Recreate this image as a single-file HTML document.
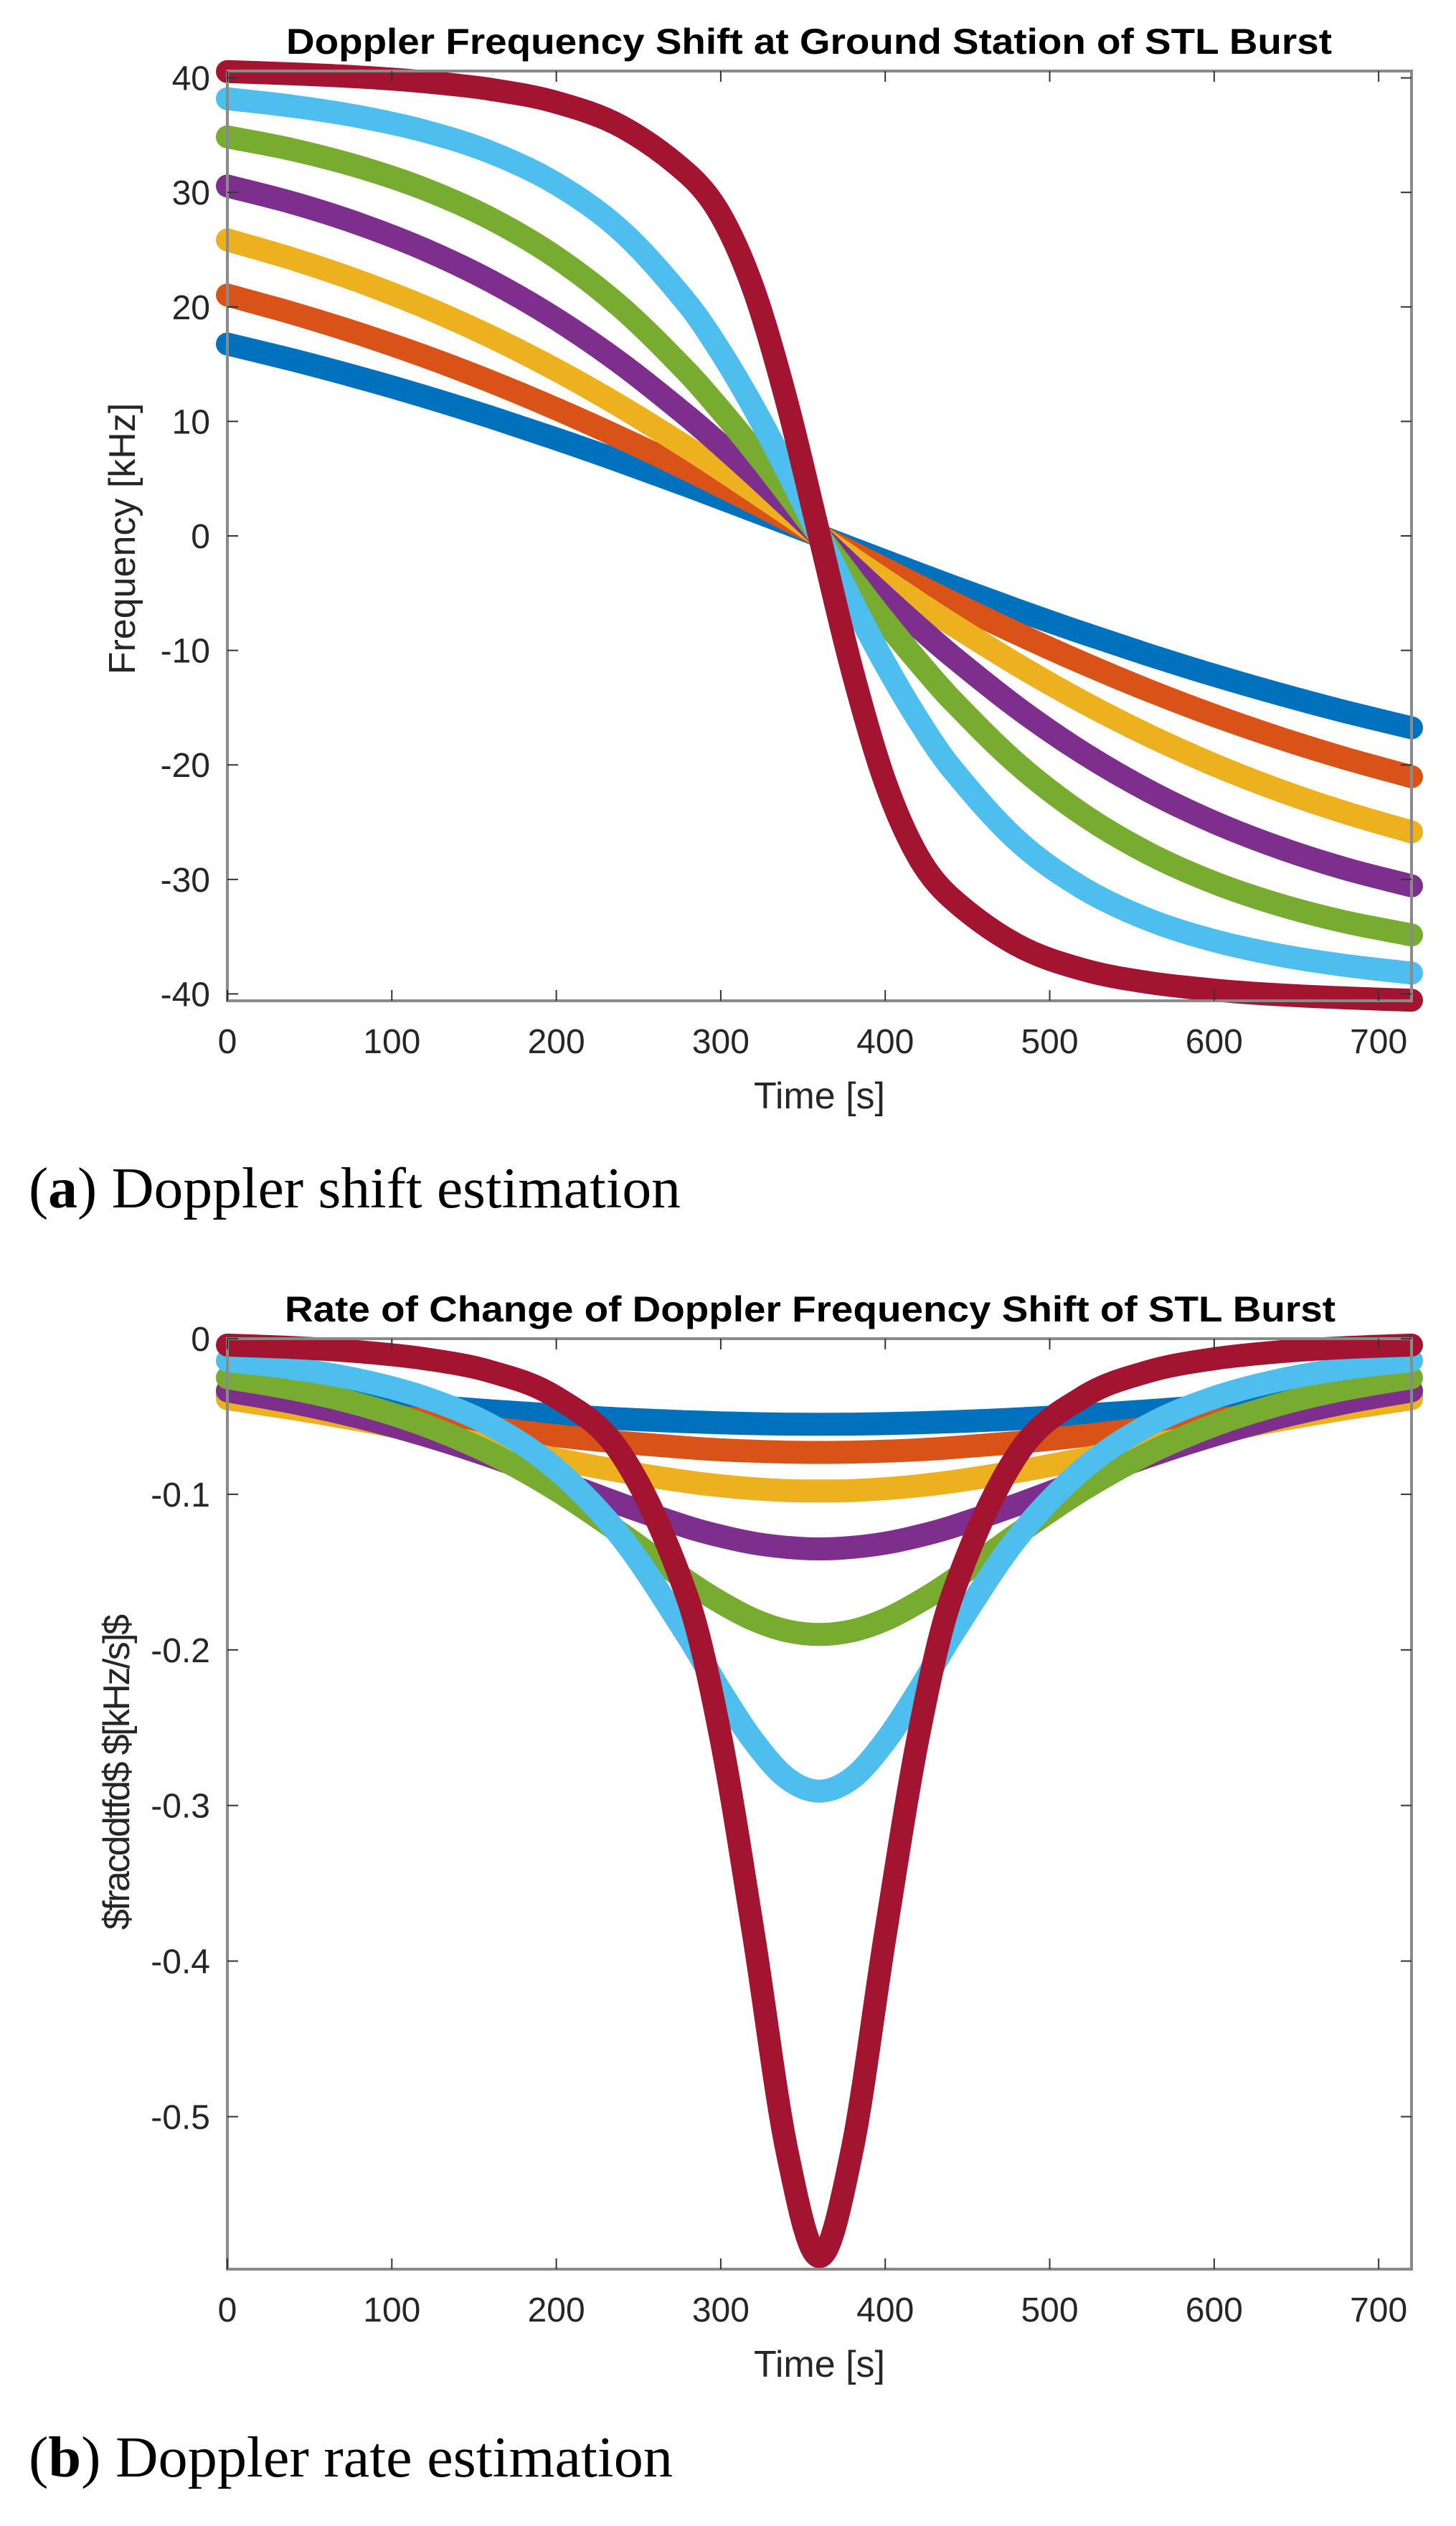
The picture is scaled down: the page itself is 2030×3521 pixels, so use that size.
<!DOCTYPE html>
<html><head><meta charset="utf-8"><style>
html,body{margin:0;padding:0;background:#fff;}
svg{display:block;}
text{font-family:"Liberation Sans",Arial,sans-serif;}
</style></head><body>
<svg id="fig" width="2030" height="3521" viewBox="0 0 2030 3521" xmlns="http://www.w3.org/2000/svg">
<rect x="0" y="0" width="2030" height="3521" fill="#fff"/>
<g id="chartA"></g>
<g id="chartB"></g>
<text x="40" y="1683" font-size="80" textLength="909" lengthAdjust="spacingAndGlyphs" style="font-family:'Liberation Serif',serif">(<tspan font-weight="bold">a</tspan>) Doppler shift estimation</text>
<text x="40" y="3452" font-size="80" textLength="898" lengthAdjust="spacingAndGlyphs" style="font-family:'Liberation Serif',serif">(<tspan font-weight="bold">b</tspan>) Doppler rate estimation</text>
</svg>
<script>
// ---- data ----
const times = [0,40,80,120,160,200,240,280,300,320,340,360,380,400,420,440,480,520,560,600,640,680,720];
const seriesNames = ['blue','orange','yellow','purple','green','cyan','red'];
const seriesColors = ['#0072BD','#D95319','#EDB120','#7E2F8E','#77AC30','#4DBEEE','#A2142F'];
const shiftBlue   = [16.76,15.36,13.83,12.17,10.38,8.47,6.46,4.36,3.28,2.19,1.10,0,-1.10,-2.19,-3.28,-4.36,-6.46,-8.47,-10.38,-12.17,-13.83,-15.36,-16.76];
const shiftOrange = [21.03,19.44,17.66,15.68,13.49,11.09,8.51,5.77,4.35,2.91,1.46,0,-1.46,-2.91,-4.35,-5.77,-8.51,-11.09,-13.49,-15.68,-17.66,-19.44,-21.03];
const shiftYellow = [25.85,24.18,22.24,19.99,17.41,14.49,11.23,7.67,5.81,3.90,1.96,0,-1.96,-3.90,-5.81,-7.67,-11.23,-14.49,-17.41,-19.99,-22.24,-24.18,-25.85];
const shiftPurple = [30.56,29.08,27.25,25.01,22.26,18.93,14.98,10.42,7.94,5.35,2.70,0,-2.70,-5.35,-7.94,-10.42,-14.98,-18.93,-22.26,-25.01,-27.25,-29.08,-30.56];
const shiftGreen  = [34.85,33.72,32.23,30.29,27.72,24.32,19.88,14.24,10.98,7.48,3.79,0,-3.79,-7.48,-10.98,-14.24,-19.88,-24.32,-27.72,-30.29,-32.23,-33.72,-34.85];
const shiftCyan   = [38.18,37.52,36.62,35.35,33.51,30.75,26.57,20.23,16.06,11.19,5.76,0,-5.76,-11.19,-16.06,-20.23,-26.57,-30.75,-33.51,-35.35,-36.62,-37.52,-38.18];
const shiftRed    = [40.55,40.35,40.08,39.66,39.0,37.87,35.72,31.6,28.0,21.5,11.8,0,-11.8,-21.5,-28.0,-31.6,-35.72,-37.87,-39.0,-39.66,-40.08,-40.35,-40.55];
const rateBlue   = [-0.0334,-0.0366,-0.0399,-0.0431,-0.0463,-0.0491,-0.0516,-0.0534,-0.0541,-0.0546,-0.0549,-0.0550,-0.0549,-0.0546,-0.0541,-0.0534,-0.0516,-0.0491,-0.0463,-0.0431,-0.0399,-0.0366,-0.0334];
const rateOrange = [-0.0373,-0.0420,-0.0470,-0.0522,-0.0574,-0.0624,-0.0667,-0.0701,-0.0714,-0.0723,-0.0729,-0.0731,-0.0729,-0.0723,-0.0714,-0.0701,-0.0667,-0.0624,-0.0574,-0.0522,-0.0470,-0.0420,-0.0373];
const rateYellow = [-0.0386,-0.0450,-0.0522,-0.0603,-0.0688,-0.0774,-0.0854,-0.0920,-0.0945,-0.0964,-0.0976,-0.0979,-0.0976,-0.0964,-0.0945,-0.0920,-0.0854,-0.0774,-0.0688,-0.0603,-0.0522,-0.0450,-0.0386];
const ratePurple = [-0.0335,-0.0411,-0.0505,-0.0620,-0.0756,-0.0909,-0.1067,-0.1211,-0.1269,-0.1314,-0.1341,-0.1351,-0.1341,-0.1314,-0.1269,-0.1211,-0.1067,-0.0909,-0.0756,-0.0620,-0.0505,-0.0411,-0.0335];
const rateGreen  = [-0.0251,-0.0323,-0.0422,-0.0556,-0.0737,-0.0972,-0.1257,-0.1561,-0.1695,-0.1806,-0.1877,-0.1901,-0.1877,-0.1806,-0.1695,-0.1561,-0.1257,-0.0972,-0.0737,-0.0556,-0.0422,-0.0323,-0.0251];
const rateCyan   = [-0.0141,-0.0191,-0.0265,-0.0378,-0.0556,-0.0840,-0.1283,-0.1914,-0.2267,-0.2587,-0.2823,-0.2908,-0.2823,-0.2587,-0.2267,-0.1914,-0.1283,-0.0840,-0.0556,-0.0378,-0.0265,-0.0191,-0.0141];
const rateRed    = [-0.0041,-0.0057,-0.0084,-0.0129,-0.0211,-0.0377,-0.0750,-0.1673,-0.2563,-0.3834,-0.5206,-0.5900,-0.5206,-0.3834,-0.2563,-0.1673,-0.0750,-0.0377,-0.0211,-0.0129,-0.0084,-0.0057,-0.0041];
const xTicks = [0,100,200,300,400,500,600,700];
const yTicksA = [-40,-30,-20,-10,0,10,20,30,40];
const yTicksB = [-0.5,-0.4,-0.3,-0.2,-0.1,0];
const yTickLabelsB = ['-0.5','-0.4','-0.3','-0.2','-0.1','0'];

const NS='http://www.w3.org/2000/svg';
function mk(tag, attrs, parent){const e=document.createElementNS(NS,tag);for(const k in attrs)e.setAttribute(k,attrs[k]);parent.appendChild(e);return e;}
function smoothPath(pts){
  const n=pts.length, m=[];
  for(let i=0;i<n;i++){
    const a=pts[Math.max(0,i-1)], b=pts[Math.min(n-1,i+1)];
    m.push((b[1]-a[1])/(b[0]-a[0]));
  }
  let d='M'+pts[0][0].toFixed(1)+','+pts[0][1].toFixed(1);
  for(let i=0;i<n-1;i++){
    const p1=pts[i],p2=pts[i+1],h=(p2[0]-p1[0])/3;
    d+=' C'+(p1[0]+h).toFixed(1)+','+(p1[1]+m[i]*h).toFixed(1)+' '+(p2[0]-h).toFixed(1)+','+(p2[1]-m[i+1]*h).toFixed(1)+' '+p2[0].toFixed(1)+','+p2[1].toFixed(1);
  }
  return d;
}
function drawChart(g, cfg){
  const L=317,R=1968,T=cfg.top,B=cfg.bottom;
  const xs=v=>L+(v-0)/(720-0)*(R-L);
  const ys=v=>T+(cfg.ymax-v)/(cfg.ymax-cfg.ymin)*(B-T);
  const tt=mk('text',{x:(cfg.tx0+cfg.tx1)/2,y:cfg.titleY,'text-anchor':'middle','font-size':50,'font-weight':'bold',textLength:cfg.tx1-cfg.tx0,lengthAdjust:'spacingAndGlyphs',fill:'#000'},g);
  tt.textContent=cfg.title;
  
  
  const sg=mk('g',{},g);
  
  
  cfg.series.forEach((vals,si)=>{
    const pts=vals.map((v,i)=>[xs(times[i]),ys(v)]);
    const p=mk('path',{d:smoothPath(pts),fill:'none',stroke:seriesColors[si],'stroke-width':32,'stroke-linecap':'round','stroke-linejoin':'round'},sg);
    
    
  });
  const box=mk('rect',{x:L,y:T,width:R-L,height:B-T,fill:'none',stroke:'#8a8a8a','stroke-width':4},g);
  
  
  xTicks.forEach(v=>{
    const x=xs(v);
    mk('line',{x1:x,y1:B,x2:x,y2:B-15,stroke:'#333','stroke-width':2},g);
    mk('line',{x1:x,y1:T,x2:x,y2:T+15,stroke:'#333','stroke-width':2},g);
    const t=mk('text',{x:x,y:cfg.xLabY,'text-anchor':'middle','font-size':48,fill:'#262626'},g);
    t.textContent=String(v);
    
    
  });
  cfg.yTicks.forEach((v,i)=>{
    const y=ys(v);
    mk('line',{x1:L,y1:y,x2:L+15,y2:y,stroke:'#333','stroke-width':2},g);
    mk('line',{x1:R,y1:y,x2:R-15,y2:y,stroke:'#333','stroke-width':2},g);
    const t=mk('text',{x:293,y:y+17,'text-anchor':'end','font-size':48,fill:'#262626'},g);
    t.textContent=cfg.yLabels[i];
    
    
  });
  const xl=mk('text',{x:(L+R)/2,y:cfg.xTitleY,'text-anchor':'middle','font-size':52,fill:'#262626'},g);
  xl.textContent='Time [s]';
  
  
  const yl=mk('text',{x:0,y:0,'text-anchor':'middle','font-size':52,fill:'#262626',transform:'translate('+(cfg.ylx)+','+cfg.yly+') rotate(-90)'},g);
  yl.textContent=cfg.ylabel;
  
  
  if(cfg.ylLen) yl.setAttribute('textLength',cfg.ylLen);
}
drawChart(document.getElementById('chartA'),{
  top:99,bottom:1395,ymin:-40.6,ymax:40.6,
  title:'Doppler Frequency Shift at Ground Station of STL Burst',tx0:399,tx1:1857,titleY:75,
  series:[shiftBlue,shiftOrange,shiftYellow,shiftPurple,shiftGreen,shiftCyan,shiftRed],
  yTicks:yTicksA,yLabels:yTicksA.map(String),
  ylabel:'Frequency [kHz]',ylx:188,yly:751,xLabY:1468,xTitleY:1545
});
drawChart(document.getElementById('chartB'),{
  top:1866,bottom:3163,ymin:-0.598,ymax:0,
  title:'Rate of Change of Doppler Frequency Shift of STL Burst',tx0:397,tx1:1862,titleY:1842,
  series:[rateBlue,rateOrange,rateYellow,ratePurple,rateGreen,rateCyan,rateRed],
  yTicks:yTicksB,yLabels:yTickLabelsB,
  ylabel:'$fracddtfd$ $[kHz/s]$',ylx:180,yly:2470,ylLen:440,xLabY:3236,xTitleY:3313
});
</script>
</body></html>
